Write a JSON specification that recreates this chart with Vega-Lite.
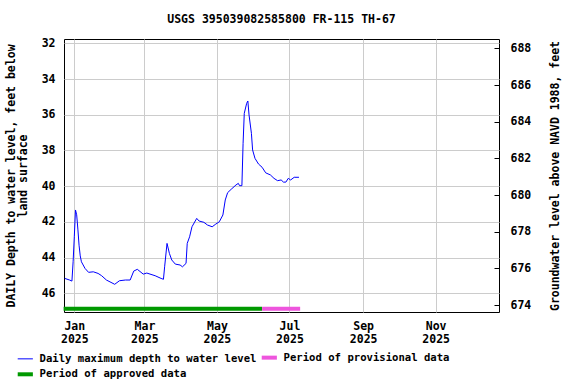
{
  "$schema": "https://vega.github.io/schema/vega-lite/v6.json",
  "width": 435,
  "height": 273,
  "autosize": {"type": "none"},
  "padding": {"left": 64, "top": 39, "right": 77, "bottom": 72},
  "background": "white",
  "config": {
    "view": {"stroke": "black", "strokeWidth": 1},
    "font": "DejaVu Sans Mono",
    "axis": {"labelFont": "DejaVu Sans Mono", "labelFontWeight": "bold", "labelFontSize": 11.5, "labelColor": "black", "titleFont": "DejaVu Sans Mono", "titleFontWeight": "bold", "titleFontSize": 11.5, "titleColor": "black", "gridColor": "#cccccc", "gridWidth": 1, "domain": false, "labelOverlap": false}
  },
  "title": {"text": "USGS 395039082585800 FR-115 TH-67", "font": "DejaVu Sans Mono", "fontWeight": "bold", "fontSize": 11.5, "color": "black", "offset": 12, "anchor": "middle"},
  "datasets": {
    "levels": [
      {"date": "2024-12-24", "depth": 45.16},
      {"date": "2024-12-28", "depth": 45.25},
      {"date": "2024-12-30", "depth": 45.31},
      {"date": "2024-12-31", "depth": 44.23},
      {"date": "2025-01-01", "depth": 42.83},
      {"date": "2025-01-02", "depth": 41.33},
      {"date": "2025-01-03", "depth": 41.6},
      {"date": "2025-01-04", "depth": 42.4},
      {"date": "2025-01-05", "depth": 43.3},
      {"date": "2025-01-06", "depth": 43.9},
      {"date": "2025-01-07", "depth": 44.23},
      {"date": "2025-01-10", "depth": 44.6},
      {"date": "2025-01-13", "depth": 44.82},
      {"date": "2025-01-17", "depth": 44.79},
      {"date": "2025-01-21", "depth": 44.88},
      {"date": "2025-01-24", "depth": 45.01},
      {"date": "2025-01-28", "depth": 45.25},
      {"date": "2025-02-04", "depth": 45.49},
      {"date": "2025-02-08", "depth": 45.29},
      {"date": "2025-02-13", "depth": 45.25},
      {"date": "2025-02-17", "depth": 45.25},
      {"date": "2025-02-20", "depth": 44.75},
      {"date": "2025-02-23", "depth": 44.65},
      {"date": "2025-02-28", "depth": 44.92},
      {"date": "2025-03-03", "depth": 44.86},
      {"date": "2025-03-10", "depth": 45.01},
      {"date": "2025-03-15", "depth": 45.16},
      {"date": "2025-03-17", "depth": 45.21},
      {"date": "2025-03-18", "depth": 44.51},
      {"date": "2025-03-20", "depth": 43.2},
      {"date": "2025-03-22", "depth": 43.76},
      {"date": "2025-03-24", "depth": 44.13},
      {"date": "2025-03-27", "depth": 44.36},
      {"date": "2025-03-31", "depth": 44.41},
      {"date": "2025-04-02", "depth": 44.51},
      {"date": "2025-04-05", "depth": 44.32},
      {"date": "2025-04-06", "depth": 43.2},
      {"date": "2025-04-08", "depth": 42.83},
      {"date": "2025-04-10", "depth": 42.27},
      {"date": "2025-04-14", "depth": 41.8},
      {"date": "2025-04-16", "depth": 41.95},
      {"date": "2025-04-20", "depth": 42.02},
      {"date": "2025-04-23", "depth": 42.17},
      {"date": "2025-04-27", "depth": 42.27},
      {"date": "2025-04-30", "depth": 42.12},
      {"date": "2025-05-03", "depth": 41.99},
      {"date": "2025-05-06", "depth": 41.61},
      {"date": "2025-05-08", "depth": 40.77},
      {"date": "2025-05-10", "depth": 40.36},
      {"date": "2025-05-13", "depth": 40.17},
      {"date": "2025-05-17", "depth": 39.93},
      {"date": "2025-05-19", "depth": 39.84},
      {"date": "2025-05-20", "depth": 39.97},
      {"date": "2025-05-22", "depth": 39.97},
      {"date": "2025-05-23", "depth": 37.6},
      {"date": "2025-05-24", "depth": 35.92},
      {"date": "2025-05-26", "depth": 35.36},
      {"date": "2025-05-27", "depth": 35.23},
      {"date": "2025-05-28", "depth": 36.01},
      {"date": "2025-05-30", "depth": 37.04},
      {"date": "2025-05-31", "depth": 37.97},
      {"date": "2025-06-02", "depth": 38.44},
      {"date": "2025-06-05", "depth": 38.76},
      {"date": "2025-06-08", "depth": 38.94},
      {"date": "2025-06-11", "depth": 39.25},
      {"date": "2025-06-15", "depth": 39.37},
      {"date": "2025-06-18", "depth": 39.56},
      {"date": "2025-06-21", "depth": 39.69},
      {"date": "2025-06-24", "depth": 39.65},
      {"date": "2025-06-26", "depth": 39.77},
      {"date": "2025-06-28", "depth": 39.77},
      {"date": "2025-06-30", "depth": 39.56},
      {"date": "2025-07-02", "depth": 39.65},
      {"date": "2025-07-05", "depth": 39.5},
      {"date": "2025-07-09", "depth": 39.5}
    ],
    "periods": [
      {"series": "Period of approved data", "start": "2024-12-23", "end": "2025-06-08"},
      {"series": "Period of provisional data", "start": "2025-06-08", "end": "2025-07-10"}
    ],
    "elevTicks": [{"elev": 674}, {"elev": 688}]
  },
  "layer": [
    {
      "layer": [
        {
          "data": {"name": "levels"},
          "transform": [{"calculate": "'Daily maximum depth to water level'", "as": "series"}],
          "mark": {"type": "line", "interpolate": "linear", "strokeWidth": 1},
          "encoding": {
            "x": {"field": "date", "type": "temporal", "scale": {"type": "utc", "domain": [{"year": 2024, "month": 12, "date": 23, "hours": 8, "utc": true}, {"year": 2025, "month": 12, "date": 24, "hours": 7, "utc": true}]},
              "axis": {"title": null, "grid": true, "ticks": false, "labelPadding": 8, "values": [{"year": 2025, "month": 1, "date": 1, "utc": true}, {"year": 2025, "month": 3, "date": 1, "utc": true}, {"year": 2025, "month": 5, "date": 1, "utc": true}, {"year": 2025, "month": 7, "date": 1, "utc": true}, {"year": 2025, "month": 9, "date": 1, "utc": true}, {"year": 2025, "month": 11, "date": 1, "utc": true}],
                "labelExpr": "[utcFormat(datum.value, '%b'), utcFormat(datum.value, '%Y')]", "labelLineHeight": 13}},
            "y": {"field": "depth", "type": "quantitative", "scale": {"domain": [31.76, 47.04], "reverse": true, "nice": false, "zero": false},
              "axis": {"title": ["DAILY Depth to water level, feet below", "land surface"], "titleLineHeight": 12, "grid": true, "ticks": false, "labelPadding": 9, "labelOverlap": false, "values": [32, 34, 36, 38, 40, 42, 44, 46], "tickCount": 8, "titlePadding": 13}},
            "color": {"field": "series", "type": "nominal", "scale": {"domain": ["Daily maximum depth to water level", "Period of provisional data", "Period of approved data"], "range": ["#0000ff", "#ee55dd", "#009900"]},
              "legend": {"title": null, "orient": "none", "legendX": -44, "legendY": 313, "direction": "horizontal", "columns": 2, "symbolType": "stroke", "symbolSize": 230, "symbolStrokeWidth": 4, "labelFont": "DejaVu Sans Mono", "labelFontWeight": "bold", "labelFontSize": 10.6, "labelColor": "black", "columnPadding": -4, "rowPadding": 0, "labelOffset": 9, "labelLimit": 400,
                "encode": {"symbols": {"update": {"strokeWidth": {"signal": "datum.label === 'Daily maximum depth to water level' ? 1 : 4"}}}}}}
          }
        },
        {
          "data": {"name": "periods"},
          "mark": {"type": "rule", "strokeWidth": 4},
          "encoding": {
            "x": {"field": "start", "type": "temporal"},
            "x2": {"field": "end"},
            "y": {"datum": 46.86, "type": "quantitative"},
            "color": {"field": "series", "type": "nominal"}
          }
        }
      ]
    },
    {
      "data": {"name": "elevTicks"},
      "mark": {"type": "point", "opacity": 0},
      "encoding": {
        "y": {"field": "elev", "type": "quantitative", "scale": {"domain": [673.62, 688.51], "nice": false, "zero": false},
          "axis": {"orient": "right", "title": "Groundwater level above NAVD 1988, feet", "titleAngle": -90, "titlePadding": 30, "grid": false, "ticks": true, "tickSize": -5, "tickColor": "black", "labelPadding": 16, "labelOverlap": false, "values": [674, 676, 678, 680, 682, 684, 686, 688]}}
      }
    }
  ],
  "resolve": {"scale": {"y": "independent"}}
}
